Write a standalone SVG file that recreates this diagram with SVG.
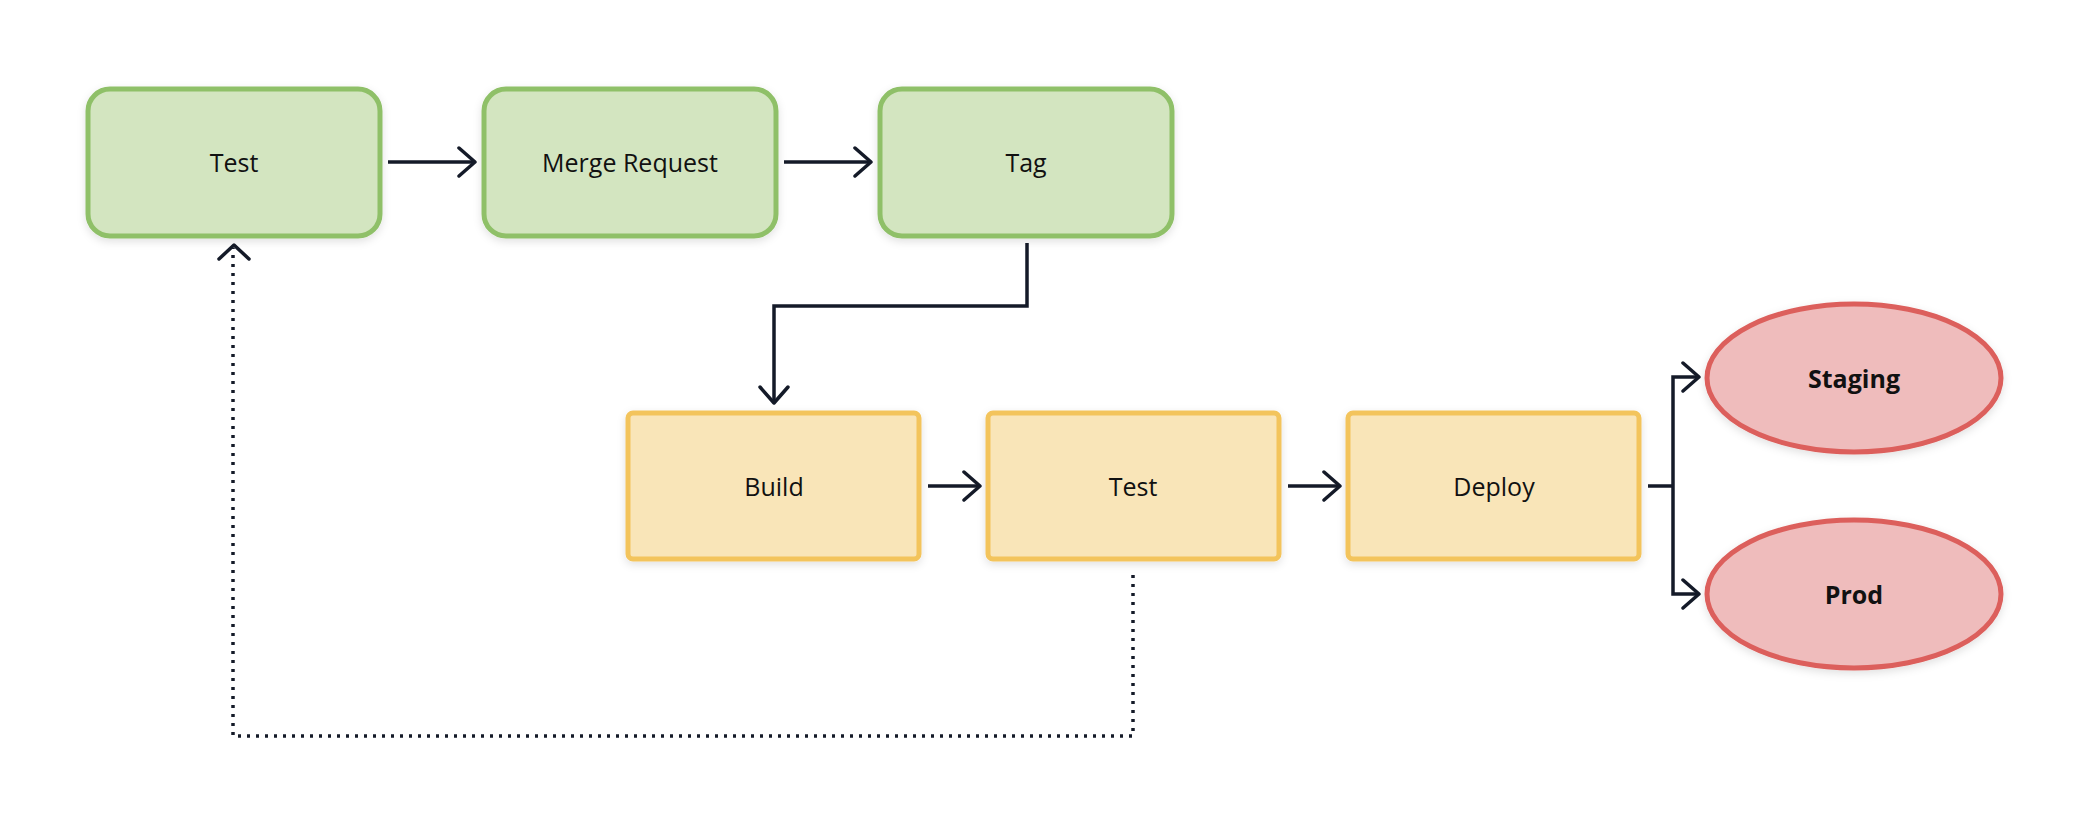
<svg xmlns="http://www.w3.org/2000/svg" width="2088" height="828" viewBox="0 0 2088 828">
<defs>
<marker id="arr" viewBox="0 0 20 32" refX="18" refY="16" markerWidth="20" markerHeight="32" markerUnits="userSpaceOnUse" orient="auto">
<path d="M2,2 L18,16 L2,30" fill="none" stroke="#141a28" stroke-width="3.5" stroke-linecap="round" stroke-linejoin="round"/>
</marker>
<filter id="sh" x="-10%" y="-10%" width="120%" height="130%">
<feDropShadow dx="0" dy="3" stdDeviation="4" flood-color="#000" flood-opacity="0.12"/>
</filter>
</defs>
<style>
.g{fill:#d3e5c0;stroke:#8fc068;stroke-width:5;filter:url(#sh)}
.y{fill:#f9e5b8;stroke:#f3c45c;stroke-width:5;filter:url(#sh)}
.r{fill:#efbcbc;stroke:#dc5f5b;stroke-width:5;filter:url(#sh)}
.t{font-family:"Open Sans","Noto Sans",sans-serif;font-size:25px;fill:#111;text-anchor:middle;dominant-baseline:central}
.b{font-weight:bold}
.c{fill:none;stroke:#141a28;stroke-width:3.5}
.d{fill:none;stroke:#141a28;stroke-width:3.5;stroke-dasharray:3 6}
</style>
<g id="connectors">
<path class="c" d="M388,162 L475,162" marker-end="url(#arr)"/>
<path class="c" d="M784,162 L871,162" marker-end="url(#arr)"/>
<path class="c" d="M1027,243 L1027,306 L774,306 L774,403" marker-end="url(#arr)"/>
<path class="c" d="M928,486 L980,486" marker-end="url(#arr)"/>
<path class="c" d="M1288,486 L1340,486" marker-end="url(#arr)"/>
<path class="c" d="M1648,486 L1673,486"/>
<path class="c" d="M1673,486 L1673,377 L1699,377" marker-end="url(#arr)"/>
<path class="c" d="M1673,486 L1673,594 L1699,594" marker-end="url(#arr)"/>
<path class="d" d="M1133,575 L1133,736 L233,736 L233,248"/>
<path class="c" d="M219,259 L234,245 L249,259" stroke-width="4" stroke-linecap="round" stroke-linejoin="round"/>
</g>
<g id="test1"><rect class="g" x="88" y="89" width="292" height="147" rx="22"/><text class="t" x="234" y="162">Test</text></g>
<g id="merge"><rect class="g" x="484" y="89" width="292" height="147" rx="22"/><text class="t" x="630" y="162">Merge Request</text></g>
<g id="tag"><rect class="g" x="880" y="89" width="292" height="147" rx="22"/><text class="t" x="1026" y="162">Tag</text></g>
<g id="build"><rect class="y" x="628" y="413" width="291" height="146" rx="5"/><text class="t" x="774" y="486">Build</text></g>
<g id="test2"><rect class="y" x="988" y="413" width="291" height="146" rx="5"/><text class="t" x="1133" y="486">Test</text></g>
<g id="deploy"><rect class="y" x="1348" y="413" width="291" height="146" rx="5"/><text class="t" x="1494" y="486">Deploy</text></g>
<g id="staging"><ellipse class="r" cx="1854" cy="378" rx="147" ry="74"/><text class="t b" x="1854" y="378">Staging</text></g>
<g id="prod"><ellipse class="r" cx="1854" cy="594" rx="147" ry="74"/><text class="t b" x="1854" y="594">Prod</text></g>
</svg>
